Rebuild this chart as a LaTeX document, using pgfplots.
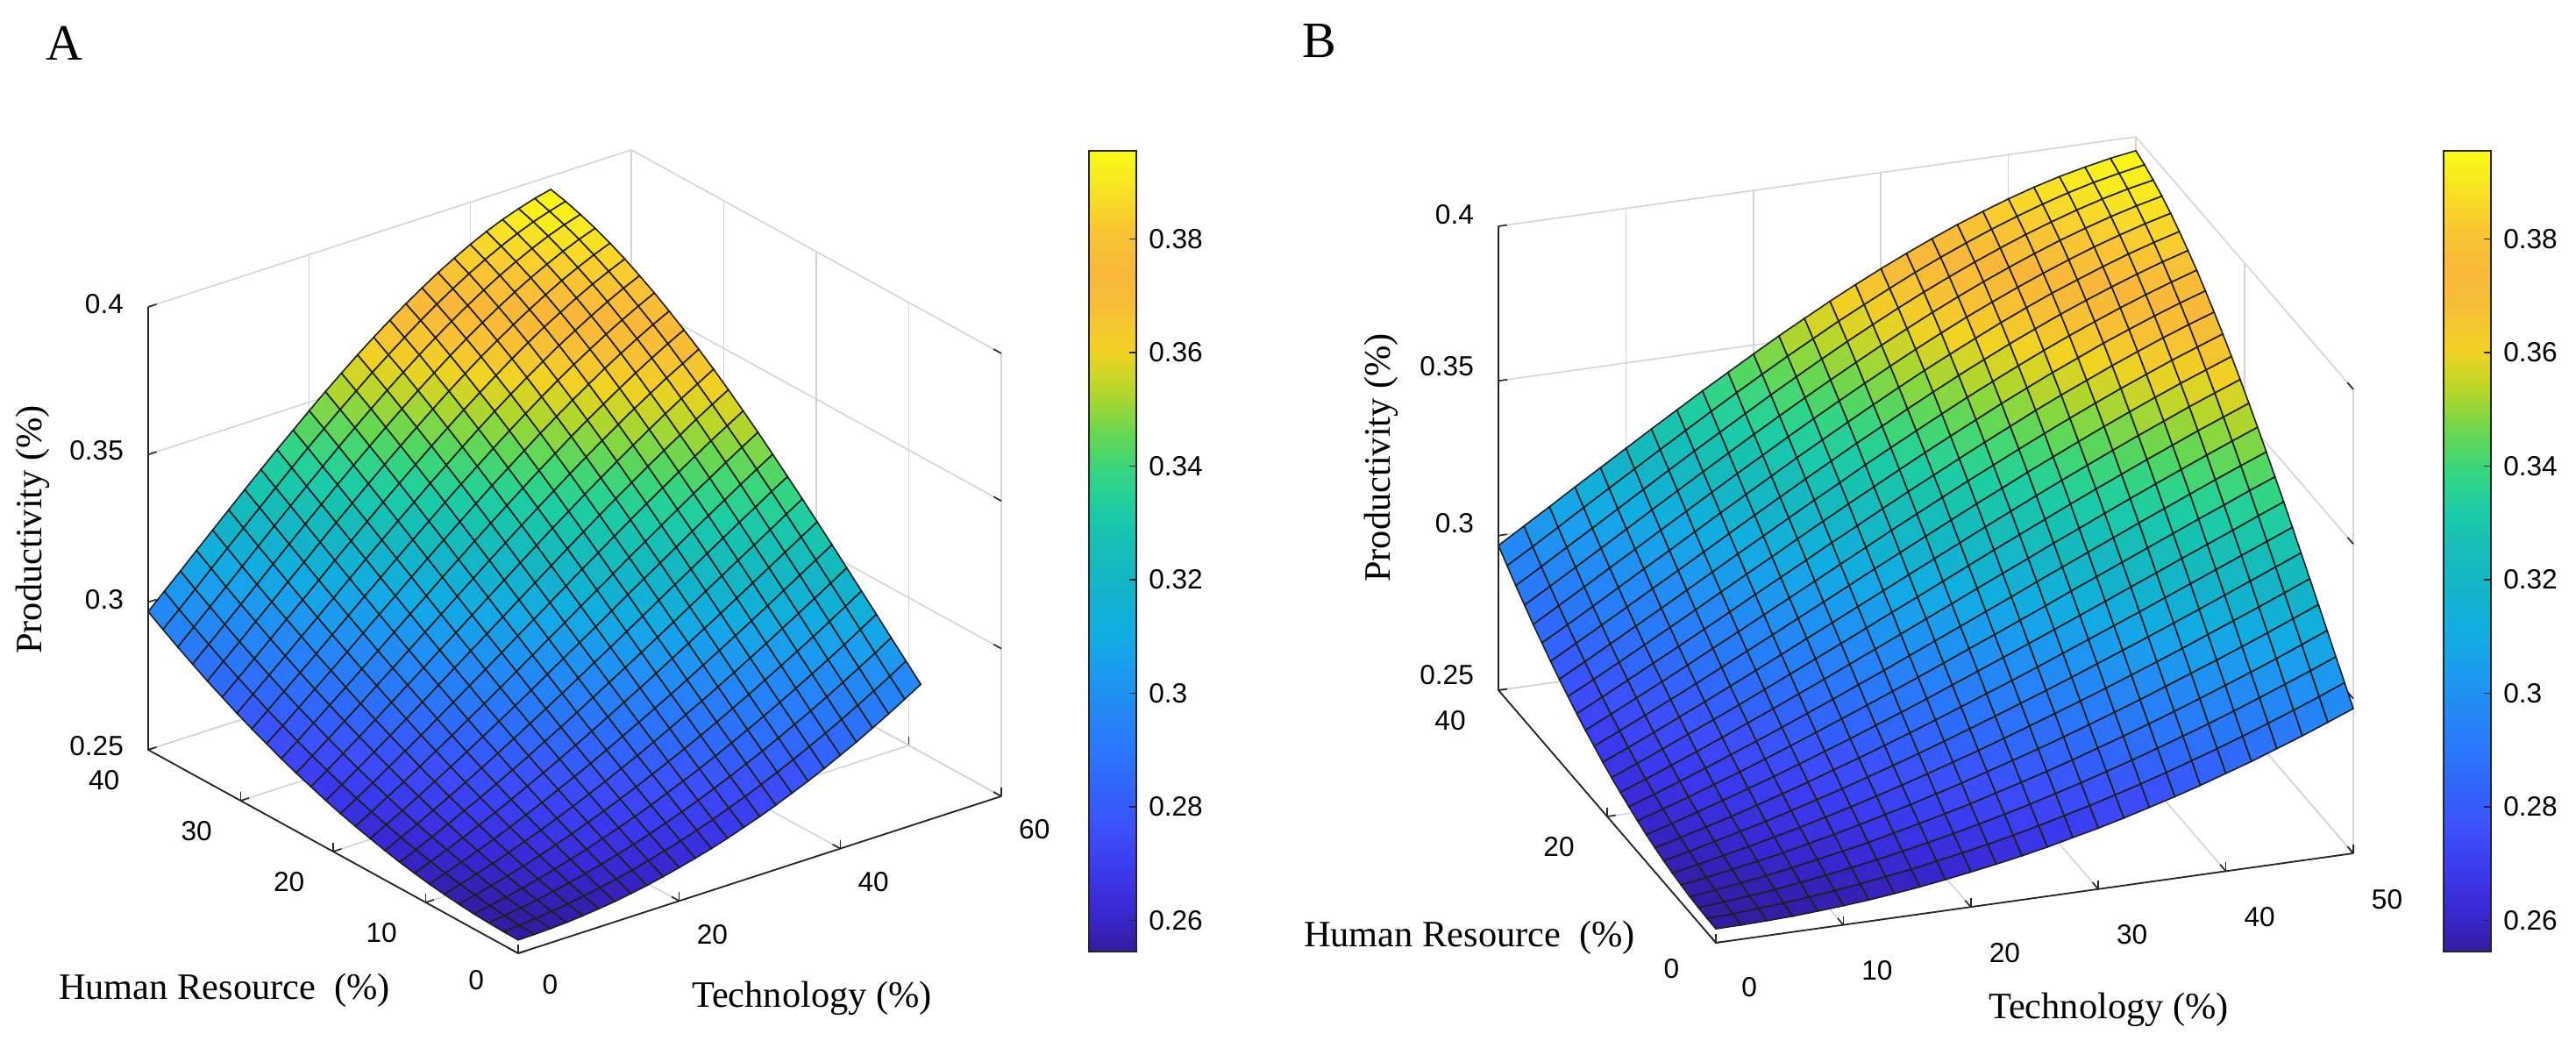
\documentclass[border=0pt]{standalone}
\usepackage{fontspec}
\setmainfont{Liberation Serif}
\newfontfamily\sansf{Liberation Sans}
\usepackage{pgfplots}
\usepackage{pgfplotstable}
\pgfplotsset{compat=1.18}
\pgfplotsset{
  colormap={parulaish}{rgb255=(50,28,160) rgb255=(56,40,209) rgb255=(59,57,237) rgb255=(60,78,252) rgb255=(50,99,252) rgb255=(42,119,250) rgb255=(36,136,246) rgb255=(27,156,238) rgb255=(18,173,226) rgb255=(20,179,204) rgb255=(22,188,184) rgb255=(27,203,167) rgb255=(53,213,128) rgb255=(107,215,78) rgb255=(182,214,43) rgb255=(240,210,35) rgb255=(247,192,52) rgb255=(249,183,58) rgb255=(249,197,51) rgb255=(248,225,37) rgb255=(250,250,20)},
  surfax/.style={
    disabledatascaling, anchor=origin, clip=false,
    ymin=0, ymax=40, zmin=0.25, zmax=0.4,
    ztick={0.25,0.3,0.35,0.4},
    grid=major, major grid style={line width=0.4pt, black!17},
    axis line style={draw=none},
    xtick pos=left, ytick pos=left, ztick pos=left,
    tick style={black!85, line width=0.4pt}, major tick length=2.5pt,
    tick label style={font=\sansf\fontsize{7.9}{9.5}\selectfont, black},
    zticklabel style={xshift=-3.5pt},
    yticklabel style={xshift=-7pt, yshift=-1pt},
    /pgf/number format/assume math mode=true,
    point meta min=0.2545, point meta max=0.3955,
    colormap name=parulaish,
  },
  cbax/.style={
    hide axis, scale only axis, width=1pt, height=1pt, anchor=south west,
    xmin=0, xmax=1, ymin=0, ymax=1,
    colormap name=parulaish, point meta min=0.2545, point meta max=0.3955,
    colorbar,
    colorbar style={at={(#1)}, anchor=south west, scale only axis,
      width=13.5pt, height=228.25pt,
      ytick={0.26,0.28,0.3,0.32,0.34,0.36,0.38},
      ytick pos=right, yticklabel pos=right,
      major tick length=2pt, tick style={black!85, line width=0.4pt},
      axis line style={black!85, line width=0.45pt},
      yticklabel style={font=\sansf\fontsize{7.9}{9.5}\selectfont, black},
      /pgf/number format/assume math mode=true},
  },
  surfplot/.style={surf, shader=faceted, faceted color=black!88, line width=0.4pt,
    mesh/rows=26, mesh/cols=26, z buffer=sort, point meta=z},
}
\newcommand\labfont{\fontsize{10.6}{12}\selectfont}
\pgfplotstableread{
T H P
0 0 .2545
2 0 .2546
4 0 .2548
6 0 .2551
8 0 .2556
10 0 .2562
12 0 .2569
14 0 .2578
16 0 .2588
18 0 .2600
20 0 .2613
22 0 .2627
24 0 .2642
26 0 .2659
28 0 .2678
30 0 .2697
32 0 .2718
34 0 .2741
36 0 .2764
38 0 .2789
40 0 .2816
42 0 .2843
44 0 .2873
46 0 .2903
48 0 .2935
50 0 .2968
0 1.6 .2546
2 1.6 .2549
4 1.6 .2555
6 1.6 .2561
8 1.6 .2569
10 1.6 .2578
12 1.6 .2588
14 1.6 .2600
16 1.6 .2612
18 1.6 .2627
20 1.6 .2642
22 1.6 .2658
24 1.6 .2676
26 1.6 .2695
28 1.6 .2716
30 1.6 .2737
32 1.6 .2760
34 1.6 .2784
36 1.6 .2809
38 1.6 .2836
40 1.6 .2863
42 1.6 .2892
44 1.6 .2922
46 1.6 .2953
48 1.6 .2985
50 1.6 .3019
0 3.2 .2548
2 3.2 .2555
4 3.2 .2563
6 3.2 .2572
8 3.2 .2583
10 3.2 .2595
12 3.2 .2608
14 3.2 .2622
16 3.2 .2638
18 3.2 .2654
20 3.2 .2672
22 3.2 .2691
24 3.2 .2711
26 3.2 .2732
28 3.2 .2755
30 3.2 .2778
32 3.2 .2803
34 3.2 .2828
36 3.2 .2855
38 3.2 .2883
40 3.2 .2911
42 3.2 .2941
44 3.2 .2972
46 3.2 .3004
48 3.2 .3036
50 3.2 .3070
0 4.8 .2551
2 4.8 .2561
4 4.8 .2572
6 4.8 .2584
8 4.8 .2598
10 4.8 .2613
12 4.8 .2629
14 4.8 .2645
16 4.8 .2664
18 4.8 .2683
20 4.8 .2703
22 4.8 .2724
24 4.8 .2747
26 4.8 .2770
28 4.8 .2794
30 4.8 .2819
32 4.8 .2846
34 4.8 .2873
36 4.8 .2901
38 4.8 .2930
40 4.8 .2960
42 4.8 .2991
44 4.8 .3022
46 4.8 .3054
48 4.8 .3088
50 4.8 .3122
0 6.4 .2556
2 6.4 .2569
4 6.4 .2583
6 6.4 .2598
8 6.4 .2614
10 6.4 .2632
12 6.4 .2650
14 6.4 .2670
16 6.4 .2691
18 6.4 .2712
20 6.4 .2735
22 6.4 .2758
24 6.4 .2783
26 6.4 .2808
28 6.4 .2834
30 6.4 .2861
32 6.4 .2889
34 6.4 .2918
36 6.4 .2947
38 6.4 .2978
40 6.4 .3009
42 6.4 .3040
44 6.4 .3072
46 6.4 .3105
48 6.4 .3139
50 6.4 .3173
0 8 .2562
2 8 .2578
4 8 .2595
6 8 .2613
8 8 .2632
10 8 .2652
12 8 .2673
14 8 .2695
16 8 .2718
18 8 .2742
20 8 .2767
22 8 .2793
24 8 .2819
26 8 .2847
28 8 .2875
30 8 .2904
32 8 .2933
34 8 .2963
36 8 .2994
38 8 .3025
40 8 .3057
42 8 .3090
44 8 .3123
46 8 .3156
48 8 .3190
50 8 .3224
0 9.6 .2569
2 9.6 .2588
4 9.6 .2608
6 9.6 .2629
8 9.6 .2650
10 9.6 .2673
12 9.6 .2697
14 9.6 .2721
16 9.6 .2747
18 9.6 .2773
20 9.6 .2800
22 9.6 .2828
24 9.6 .2857
26 9.6 .2886
28 9.6 .2916
30 9.6 .2946
32 9.6 .2977
34 9.6 .3009
36 9.6 .3041
38 9.6 .3073
40 9.6 .3106
42 9.6 .3139
44 9.6 .3173
46 9.6 .3207
48 9.6 .3241
50 9.6 .3275
0 11.2 .2578
2 11.2 .2600
4 11.2 .2622
6 11.2 .2645
8 11.2 .2670
10 11.2 .2695
12 11.2 .2721
14 11.2 .2749
16 11.2 .2776
18 11.2 .2805
20 11.2 .2834
22 11.2 .2864
24 11.2 .2895
26 11.2 .2926
28 11.2 .2957
30 11.2 .2989
32 11.2 .3022
34 11.2 .3055
36 11.2 .3088
38 11.2 .3121
40 11.2 .3155
42 11.2 .3189
44 11.2 .3223
46 11.2 .3257
48 11.2 .3291
50 11.2 .3325
0 12.8 .2588
2 12.8 .2612
4 12.8 .2638
6 12.8 .2664
8 12.8 .2691
10 12.8 .2718
12 12.8 .2747
14 12.8 .2776
16 12.8 .2806
18 12.8 .2837
20 12.8 .2868
22 12.8 .2900
24 12.8 .2933
26 12.8 .2966
28 12.8 .2999
30 12.8 .3032
32 12.8 .3066
34 12.8 .3100
36 12.8 .3134
38 12.8 .3169
40 12.8 .3203
42 12.8 .3238
44 12.8 .3272
46 12.8 .3306
48 12.8 .3341
50 12.8 .3375
0 14.4 .2600
2 14.4 .2627
4 14.4 .2654
6 14.4 .2683
8 14.4 .2712
10 14.4 .2742
12 14.4 .2773
14 14.4 .2805
16 14.4 .2837
18 14.4 .2870
20 14.4 .2903
22 14.4 .2937
24 14.4 .2971
26 14.4 .3006
28 14.4 .3040
30 14.4 .3075
32 14.4 .3110
34 14.4 .3146
36 14.4 .3181
38 14.4 .3216
40 14.4 .3251
42 14.4 .3286
44 14.4 .3321
46 14.4 .3355
48 14.4 .3390
50 14.4 .3423
0 16 .2613
2 16 .2642
4 16 .2672
6 16 .2703
8 16 .2735
10 16 .2767
12 16 .2800
14 16 .2834
16 16 .2868
18 16 .2903
20 16 .2938
22 16 .2974
24 16 .3010
26 16 .3046
28 16 .3082
30 16 .3118
32 16 .3155
34 16 .3191
36 16 .3227
38 16 .3263
40 16 .3299
42 16 .3334
44 16 .3369
46 16 .3404
48 16 .3438
50 16 .3471
0 17.6 .2627
2 17.6 .2658
4 17.6 .2691
6 17.6 .2724
8 17.6 .2758
10 17.6 .2793
12 17.6 .2828
14 17.6 .2864
16 17.6 .2900
18 17.6 .2937
20 17.6 .2974
22 17.6 .3011
24 17.6 .3049
26 17.6 .3086
28 17.6 .3124
30 17.6 .3161
32 17.6 .3198
34 17.6 .3236
36 17.6 .3272
38 17.6 .3309
40 17.6 .3345
42 17.6 .3381
44 17.6 .3416
46 17.6 .3451
48 17.6 .3485
50 17.6 .3518
0 19.2 .2642
2 19.2 .2676
4 19.2 .2711
6 19.2 .2747
8 19.2 .2783
10 19.2 .2819
12 19.2 .2857
14 19.2 .2895
16 19.2 .2933
18 19.2 .2971
20 19.2 .3010
22 19.2 .3049
24 19.2 .3087
26 19.2 .3126
28 19.2 .3165
30 19.2 .3204
32 19.2 .3242
34 19.2 .3280
36 19.2 .3318
38 19.2 .3355
40 19.2 .3391
42 19.2 .3427
44 19.2 .3462
46 19.2 .3497
48 19.2 .3530
50 19.2 .3563
0 20.8 .2659
2 20.8 .2695
4 20.8 .2732
6 20.8 .2770
8 20.8 .2808
10 20.8 .2847
12 20.8 .2886
14 20.8 .2926
16 20.8 .2966
18 20.8 .3006
20 20.8 .3046
22 20.8 .3086
24 20.8 .3126
26 20.8 .3166
28 20.8 .3206
30 20.8 .3246
32 20.8 .3285
34 20.8 .3324
36 20.8 .3362
38 20.8 .3399
40 20.8 .3436
42 20.8 .3472
44 20.8 .3507
46 20.8 .3542
48 20.8 .3575
50 20.8 .3607
0 22.4 .2678
2 22.4 .2716
4 22.4 .2755
6 22.4 .2794
8 22.4 .2834
10 22.4 .2875
12 22.4 .2916
14 22.4 .2957
16 22.4 .2999
18 22.4 .3040
20 22.4 .3082
22 22.4 .3124
24 22.4 .3165
26 22.4 .3206
28 22.4 .3247
30 22.4 .3288
32 22.4 .3327
34 22.4 .3367
36 22.4 .3405
38 22.4 .3443
40 22.4 .3480
42 22.4 .3516
44 22.4 .3551
46 22.4 .3585
48 22.4 .3617
50 22.4 .3649
0 24 .2697
2 24 .2737
4 24 .2778
6 24 .2819
8 24 .2861
10 24 .2904
12 24 .2946
14 24 .2989
16 24 .3032
18 24 .3075
20 24 .3118
22 24 .3161
24 24 .3204
26 24 .3246
28 24 .3288
30 24 .3329
32 24 .3369
34 24 .3409
36 24 .3448
38 24 .3486
40 24 .3523
42 24 .3559
44 24 .3593
46 24 .3627
48 24 .3658
50 24 .3689
0 25.6 .2718
2 25.6 .2760
4 25.6 .2803
6 25.6 .2846
8 25.6 .2889
10 25.6 .2933
12 25.6 .2977
14 25.6 .3022
16 25.6 .3066
18 25.6 .3110
20 25.6 .3155
22 25.6 .3198
24 25.6 .3242
26 25.6 .3285
28 25.6 .3327
30 25.6 .3369
32 25.6 .3410
34 25.6 .3450
36 25.6 .3490
38 25.6 .3528
40 25.6 .3564
42 25.6 .3600
44 25.6 .3634
46 25.6 .3667
48 25.6 .3698
50 25.6 .3727
0 27.2 .2741
2 27.2 .2784
4 27.2 .2828
6 27.2 .2873
8 27.2 .2918
10 27.2 .2963
12 27.2 .3009
14 27.2 .3055
16 27.2 .3100
18 27.2 .3146
20 27.2 .3191
22 27.2 .3236
24 27.2 .3280
26 27.2 .3324
28 27.2 .3367
30 27.2 .3409
32 27.2 .3450
34 27.2 .3491
36 27.2 .3530
38 27.2 .3568
40 27.2 .3604
42 27.2 .3640
44 27.2 .3673
46 27.2 .3705
48 27.2 .3735
50 27.2 .3763
0 28.8 .2764
2 28.8 .2809
4 28.8 .2855
6 28.8 .2901
8 28.8 .2947
10 28.8 .2994
12 28.8 .3041
14 28.8 .3088
16 28.8 .3134
18 28.8 .3181
20 28.8 .3227
22 28.8 .3272
24 28.8 .3318
26 28.8 .3362
28 28.8 .3405
30 28.8 .3448
32 28.8 .3490
34 28.8 .3530
36 28.8 .3569
38 28.8 .3607
40 28.8 .3643
42 28.8 .3677
44 28.8 .3710
46 28.8 .3741
48 28.8 .3770
50 28.8 .3797
0 30.4 .2789
2 30.4 .2836
4 30.4 .2883
6 30.4 .2930
8 30.4 .2978
10 30.4 .3025
12 30.4 .3073
14 30.4 .3121
16 30.4 .3169
18 30.4 .3216
20 30.4 .3263
22 30.4 .3309
24 30.4 .3355
26 30.4 .3399
28 30.4 .3443
30 30.4 .3486
32 30.4 .3528
34 30.4 .3568
36 30.4 .3607
38 30.4 .3644
40 30.4 .3680
42 30.4 .3713
44 30.4 .3745
46 30.4 .3775
48 30.4 .3803
50 30.4 .3828
0 32 .2816
2 32 .2863
4 32 .2911
6 32 .2960
8 32 .3009
10 32 .3057
12 32 .3106
14 32 .3155
16 32 .3203
18 32 .3251
20 32 .3299
22 32 .3345
24 32 .3391
26 32 .3436
28 32 .3480
30 32 .3523
32 32 .3564
34 32 .3604
36 32 .3643
38 32 .3680
40 32 .3715
42 32 .3747
44 32 .3778
46 32 .3807
48 32 .3833
50 32 .3857
0 33.6 .2843
2 33.6 .2892
4 33.6 .2941
6 33.6 .2991
8 33.6 .3040
10 33.6 .3090
12 33.6 .3139
14 33.6 .3189
16 33.6 .3238
18 33.6 .3286
20 33.6 .3334
22 33.6 .3381
24 33.6 .3427
26 33.6 .3472
28 33.6 .3516
30 33.6 .3559
32 33.6 .3600
34 33.6 .3640
36 33.6 .3677
38 33.6 .3713
40 33.6 .3747
42 33.6 .3779
44 33.6 .3809
46 33.6 .3836
48 33.6 .3861
50 33.6 .3883
0 35.2 .2873
2 35.2 .2922
4 35.2 .2972
6 35.2 .3022
8 35.2 .3072
10 35.2 .3123
12 35.2 .3173
14 35.2 .3223
16 35.2 .3272
18 35.2 .3321
20 35.2 .3369
22 35.2 .3416
24 35.2 .3462
26 35.2 .3507
28 35.2 .3551
30 35.2 .3593
32 35.2 .3634
34 35.2 .3673
36 35.2 .3710
38 35.2 .3745
40 35.2 .3778
42 35.2 .3809
44 35.2 .3837
46 35.2 .3863
48 35.2 .3886
50 35.2 .3906
0 36.8 .2903
2 36.8 .2953
4 36.8 .3004
6 36.8 .3054
8 36.8 .3105
10 36.8 .3156
12 36.8 .3207
14 36.8 .3257
16 36.8 .3306
18 36.8 .3355
20 36.8 .3404
22 36.8 .3451
24 36.8 .3497
26 36.8 .3542
28 36.8 .3585
30 36.8 .3627
32 36.8 .3667
34 36.8 .3705
36 36.8 .3741
38 36.8 .3775
40 36.8 .3807
42 36.8 .3836
44 36.8 .3863
46 36.8 .3887
48 36.8 .3908
50 36.8 .3925
0 38.4 .2935
2 38.4 .2985
4 38.4 .3036
6 38.4 .3088
8 38.4 .3139
10 38.4 .3190
12 38.4 .3241
14 38.4 .3291
16 38.4 .3341
18 38.4 .3390
20 38.4 .3438
22 38.4 .3485
24 38.4 .3530
26 38.4 .3575
28 38.4 .3617
30 38.4 .3658
32 38.4 .3698
34 38.4 .3735
36 38.4 .3770
38 38.4 .3803
40 38.4 .3833
42 38.4 .3861
44 38.4 .3886
46 38.4 .3908
48 38.4 .3926
50 38.4 .3942
0 40 .2968
2 40 .3019
4 40 .3070
6 40 .3122
8 40 .3173
10 40 .3224
12 40 .3275
14 40 .3325
16 40 .3375
18 40 .3423
20 40 .3471
22 40 .3518
24 40 .3563
26 40 .3607
28 40 .3649
30 40 .3689
32 40 .3727
34 40 .3763
36 40 .3797
38 40 .3828
40 40 .3857
42 40 .3883
44 40 .3906
46 40 .3925
48 40 .3942
50 40 .3955
}\surfdata
\begin{document}
\begin{tikzpicture}
\coordinate (oA) at (147.75pt,25pt);
\coordinate (oB) at (489.25pt,28pt);
\coordinate (cbA) at (302pt,25.5pt);
\coordinate (cbB) at (688.25pt,25.5pt);
% ---------- Panel A ----------
\begin{axis}[surfax, at={(oA)},
  x={(2.296pt,0.746pt)}, y={(-2.6375pt,1.45pt)}, z={(0pt,841.7pt)},
  xmin=0, xmax=60, xtick={0,20,40,60}, ytick={0,10,20,30,40},
  xticklabel style={xshift=5pt, yshift=-2pt}]
\addplot3[surfplot] table[x=T,y=H,z=P]{\surfdata};
\draw[black!85, line width=0.45pt] (axis cs:0,40,0.4) -- (axis cs:0,40,0.25) -- (axis cs:0,0,0.25) -- (axis cs:60,0,0.25);
\end{axis}
\begin{axis}[cbax=cbA, at={(cbA)}]
\addplot[draw=none] coordinates {(0,0)};
\end{axis}
% ---------- Panel B ----------
\begin{axis}[surfax, at={(oB)},
  x={(3.635pt,0.51pt)}, y={(-1.55pt,1.8pt)}, z={(0pt,881.7pt)},
  xmin=0, xmax=50, xtick={0,10,20,30,40,50}, ytick={0,20,40},
  xticklabel style={xshift=7pt, yshift=-6pt}]
\addplot3[surfplot] table[x=T,y=H,z=P]{\surfdata};
\draw[black!85, line width=0.45pt] (axis cs:0,40,0.4) -- (axis cs:0,40,0.25) -- (axis cs:0,0,0.25) -- (axis cs:50,0,0.25);
\end{axis}
\begin{axis}[cbax=cbB, at={(cbB)}]
\addplot[draw=none] coordinates {(0,0)};
\end{axis}
% ---------- labels ----------
\node[font=\fontsize{14.5}{16}\selectfont] at (18.25pt,284.5pt) {A};
\node[font=\labfont, rotate=90] at (9.25pt,145.75pt) {Productivity (\%)};
\node[font=\labfont] at (64pt,14.5pt) {Human Resource\ \ (\%)};
\node[font=\labfont] at (231.5pt,12.25pt) {Technology (\%)};
\node[font=\fontsize{14.5}{16}\selectfont] at (376.25pt,285pt) {B};
\node[font=\labfont, rotate=90] at (393.75pt,166.25pt) {Productivity (\%)};
\node[font=\labfont] at (419pt,29.5pt) {Human Resource\ \ (\%)};
\node[font=\labfont] at (601.25pt,9pt) {Technology (\%)};
\pgfresetboundingbox
\path[use as bounding box] (0,0) rectangle (734.5pt,296.75pt);
\end{tikzpicture}
\end{document}
